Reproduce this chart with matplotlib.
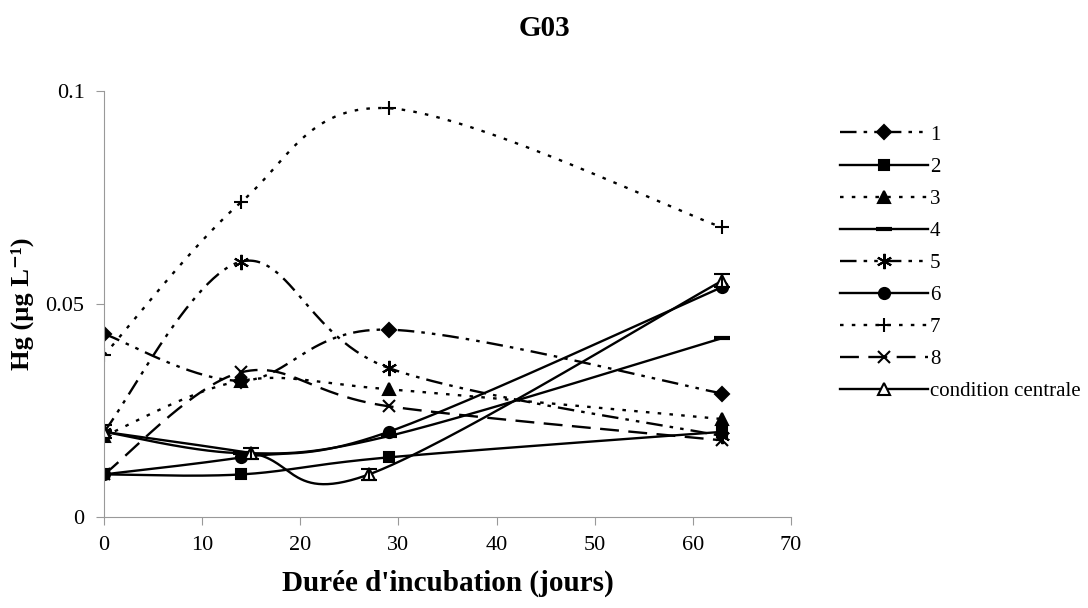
import numpy as np
import matplotlib
matplotlib.use("Agg")
import matplotlib.pyplot as plt
from matplotlib.lines import Line2D

# jours d'incubation
jours = [0, 14, 29, 63]
jours_cc = [0, 15, 27, 63]

# Hg (ug/L) par essai
essai_1 = [0.043, 0.032, 0.044, 0.029]
essai_2 = [0.010, 0.010, 0.014, 0.020]
essai_3 = [0.019, 0.032, 0.030, 0.023]
essai_4 = [0.020, 0.015, 0.019, 0.042]
essai_5 = [0.020, 0.060, 0.035, 0.019]
essai_6 = [0.010, 0.014, 0.020, 0.054]
essai_7 = [0.038, 0.074, 0.096, 0.068]
essai_8 = [0.010, 0.034, 0.026, 0.018]
condition_centrale = [0.020, 0.015, 0.010, 0.0555]
erreur_cc = [0.0015, 0.0013, 0.0013, 0.0015]

noms = ["1", "2", "3", "4", "5", "6", "7", "8", "condition centrale"]


def lisse(x, y, n=60):
    # courbe lissée façon tableur (Catmull-Rom en Bézier)
    x = np.asarray(x, float)
    y = np.asarray(y, float)
    px = np.concatenate([[x[0]], x, [x[-1]]])
    py = np.concatenate([[y[0]], y, [y[-1]]])
    xs, ys = [], []
    t = np.linspace(0, 1, n)
    for i in range(1, len(px) - 2):
        p0 = np.array([px[i], py[i]])
        p3 = np.array([px[i + 1], py[i + 1]])
        c1 = p0 + (np.array([px[i + 1], py[i + 1]]) - np.array([px[i - 1], py[i - 1]])) / 6
        c2 = p3 - (np.array([px[i + 2], py[i + 2]]) - np.array([px[i], py[i]])) / 6
        b = ((1 - t) ** 3)[:, None] * p0 + (3 * (1 - t) ** 2 * t)[:, None] * c1 \
            + (3 * (1 - t) * t ** 2)[:, None] * c2 + (t ** 3)[:, None] * p3
        xs.extend(b[:, 0])
        ys.extend(b[:, 1])
    return xs, ys


plt.rcParams["font.family"] = ["Liberation Serif", "DejaVu Serif"]

fig = plt.figure(figsize=(10.88, 6.08), dpi=100)
ax = fig.add_axes([0.0956, 0.1497, 0.6314, 0.7003])

tiret_point = (0, (7, 3, 1.5, 3, 1.5, 3))
pointille = (0, (1.5, 3.5))
tirets = (0, (8, 4))

styles = [
    (essai_1, jours, tiret_point, "D", "black", 7),
    (essai_2, jours, "-", "s", "black", 7),
    (essai_3, jours, pointille, "^", "black", 8),
    (essai_4, jours, "-", "_", "black", 12),
    (essai_5, jours, tiret_point, (6, 2, 0), "black", 11),
    (essai_6, jours, "-", "o", "black", 8),
    (essai_7, jours, pointille, "+", "black", 10),
    (essai_8, jours, tirets, "x", "black", 9),
    (condition_centrale, jours_cc, "-", "^", "white", 8),
]

handles = []
for (vals, xx, ls, mk, fc, ms), nom in zip(styles, noms):
    sx, sy = lisse(xx, vals)
    ax.plot(sx, sy, color="black", lw=1.7, linestyle=ls)
    mew = 3 if mk == "_" else 1.5
    ax.plot(xx, vals, linestyle="none", marker=mk, markersize=ms,
            markerfacecolor=fc, markeredgecolor="black", markeredgewidth=mew)
    handles.append(Line2D([], [], color="black", lw=1.7, linestyle=ls, marker=mk,
                          markersize=ms, markerfacecolor=fc, markeredgecolor="black",
                          markeredgewidth=mew))

ax.errorbar(jours_cc, condition_centrale, yerr=erreur_cc, fmt="none",
            ecolor="black", elinewidth=1.5, capsize=6, capthick=1.5)

ax.set_xlim(0, 70)
ax.set_ylim(0, 0.1)
ax.set_xticks(range(0, 71, 10))
ax.set_yticks([0, 0.05, 0.1])
ax.set_yticklabels(["0", "0.05", "0.1"])
for s in ["top", "right"]:
    ax.spines[s].set_visible(False)
for s in ["left", "bottom"]:
    ax.spines[s].set_color("#999999")
ax.tick_params(colors="#999999", labelcolor="black", labelsize=16, direction="out",
               length=6, pad=8)
ax.set_xlabel("Durée d'incubation (jours)", fontsize=21, fontweight="bold", labelpad=10)
ax.set_ylabel("Hg (µg L⁻¹)", fontsize=19, fontweight="bold", labelpad=8)
fig.suptitle("G03", fontsize=21, fontweight="bold", y=0.975, x=0.5)

fig.legend(handles, noms, loc="upper left", bbox_to_anchor=(0.755, 0.825),
           frameon=False, fontsize=15, handlelength=4.2, handletextpad=0.1,
           labelspacing=0.6)

fig.savefig("out.png", dpi=100)
